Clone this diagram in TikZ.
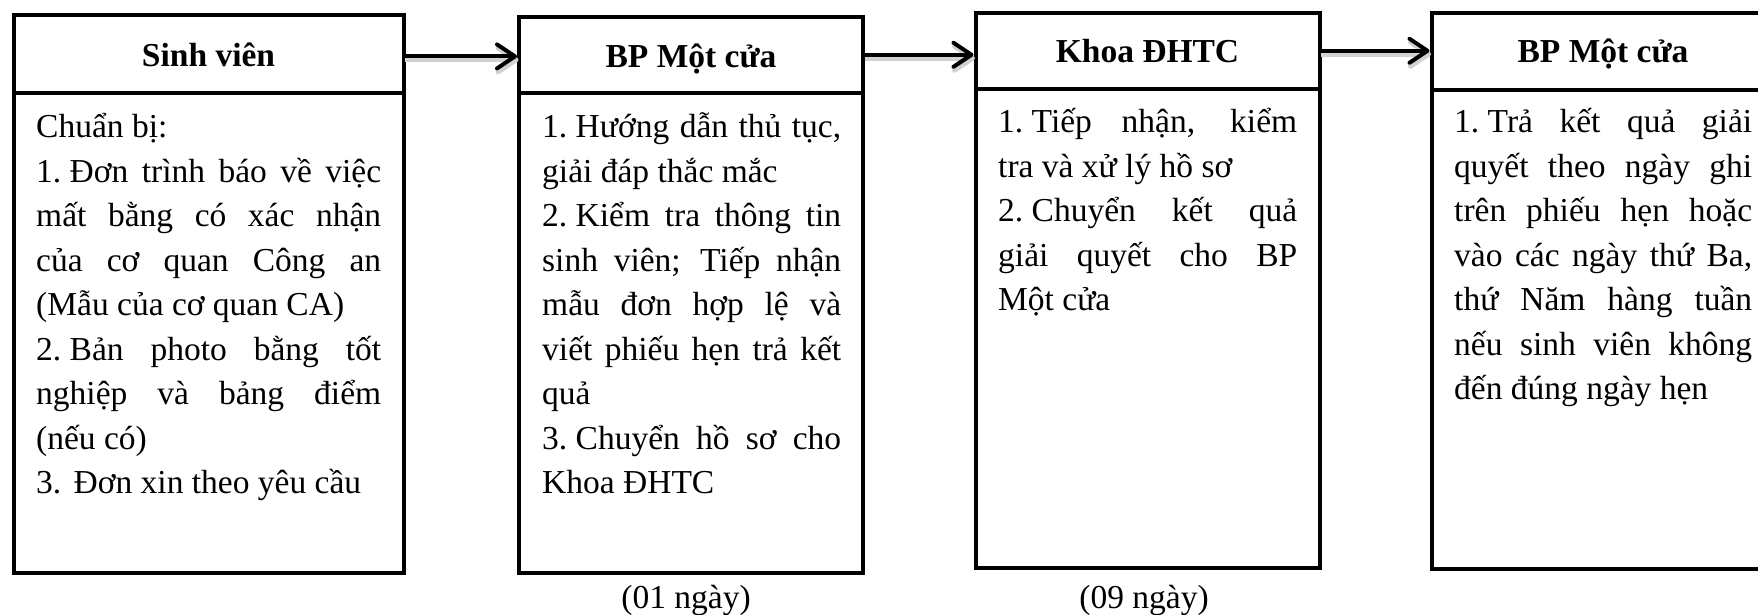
\documentclass[tikz,border=0pt]{standalone}
\usepackage{fontspec}
\setmainfont{Liberation Serif}
\usetikzlibrary{arrows.meta}

% text size used throughout the chart
\newcommand\chartfont{\fontsize{33.5pt}{44.5pt}\selectfont}
% a line stretched to the full column width / a line set at its natural width
\newcommand\fullline[1]{\noindent\makebox[\linewidth][s]{#1}\par}
\newcommand\lastline[1]{\noindent#1\par}

\begin{document}
\begin{tikzpicture}[x=1pt,y=-1pt,
  boxpart/.style={draw, line width=4pt, inner sep=0pt, outer sep=0pt, anchor=north west},
  title/.style={font=\chartfont\bfseries, anchor=base, inner sep=0pt},
  note/.style={font=\chartfont, anchor=base, inner sep=0pt},
  body/.style={anchor=base west, inner sep=0pt},
  flow/.style={line width=4pt, -{Straight Barb[length=18pt,width=24pt,round]}, shorten >=2pt},
  flowshadow/.style={flow, draw=black!18, line width=5pt, transform canvas={shift={(1.5pt,-3.5pt)}}}]

\useasboundingbox (0,0) rectangle (1758,614);

% column boxes: heading part and body part
\node[boxpart, minimum width=390pt, minimum height=78pt]   (h1) at (13.5,15) {};
\node[boxpart, minimum width=390pt, minimum height=480pt]  (b1) at (13.5,93) {};
\node[boxpart, minimum width=344pt, minimum height=76.5pt] (h2) at (519,16.5) {};
\node[boxpart, minimum width=344pt, minimum height=480pt]  (b2) at (519,93) {};
\node[boxpart, minimum width=344pt, minimum height=76.5pt] (h3) at (975.5,12.5) {};
\node[boxpart, minimum width=344pt, minimum height=479pt]  (b3) at (975.5,89) {};
\node[boxpart, minimum width=343pt, minimum height=76.5pt] (h4) at (1431.5,13) {};
\node[boxpart, minimum width=343pt, minimum height=479.5pt] (b4) at (1431.5,89.5) {};

% headings
\node[title] (s1) at (208.5,66)   {Sinh viên};
\node[title] (s2) at (691,67)     {BP Một cửa};
\node[title] (s3) at (1147.5,62.5) {Khoa ĐHTC};
\node[title] (s4) at (1603,62.5)  {BP Một cửa};

% body texts
\node[body] (t1) at (36,137.5) {\parbox[t]{345pt}{\chartfont
\lastline{Chuẩn bị:}
\fullline{1.\hspace{.25em}Đơn trình báo về việc}
\fullline{mất bằng có xác nhận}
\fullline{của cơ quan Công an}
\lastline{(Mẫu của cơ quan CA)}
\fullline{2.\hspace{.25em}Bản photo bằng tốt}
\fullline{nghiệp và bảng điểm}
\lastline{(nếu có)}
\lastline{3.\hspace{.37em}Đơn xin theo yêu cầu}}};

\node[body] (t2) at (542,137.5) {\parbox[t]{299pt}{\chartfont
\fullline{1.\hspace{.25em}Hướng dẫn thủ tục,}
\lastline{giải đáp thắc mắc}
\fullline{2.\hspace{.25em}Kiểm tra thông tin}
\fullline{sinh viên; Tiếp nhận}
\fullline{mẫu đơn hợp lệ và}
\fullline{viết phiếu hẹn trả kết}
\lastline{quả}
\fullline{3.\hspace{.25em}Chuyển hồ sơ cho}
\lastline{Khoa ĐHTC}}};

\node[body] (t3) at (998,132.8) {\parbox[t]{299pt}{\chartfont
\fullline{1.\hspace{.25em}Tiếp nhận, kiểm}
\lastline{tra và xử lý hồ sơ}
\fullline{2.\hspace{.25em}Chuyển kết quả}
\fullline{giải quyết cho BP}
\lastline{Một cửa}}};

\node[body] (t4) at (1454,132.8) {\parbox[t]{298pt}{\chartfont
\fullline{1.\hspace{.25em}Trả kết quả giải}
\fullline{quyết theo ngày ghi}
\fullline{trên phiếu hẹn hoặc}
\fullline{vào các ngày thứ Ba,}
\fullline{thứ Năm hàng tuần}
\fullline{nếu sinh viên không}
\lastline{đến đúng ngày hẹn}}};

% durations
\node[note] (d1) at (686,608)  {(01 ngày)};
\node[note] (d2) at (1144,608) {(09 ngày)};

% connectors with a soft shadow
\draw[flowshadow] ([yshift=-2.4pt]h1.east) -- ([yshift=-2.4pt]h1.east -| h2.west);
\draw[flowshadow] (h2.east) -- (h2.east -| h3.west);
\draw[flowshadow] (h3.east) -- (h3.east -| h4.west);
\draw[flow] ([yshift=-2.4pt]h1.east) -- ([yshift=-2.4pt]h1.east -| h2.west);
\draw[flow] (h2.east) -- (h2.east -| h3.west);
\draw[flow] (h3.east) -- (h3.east -| h4.west);
\end{tikzpicture}
\end{document}
